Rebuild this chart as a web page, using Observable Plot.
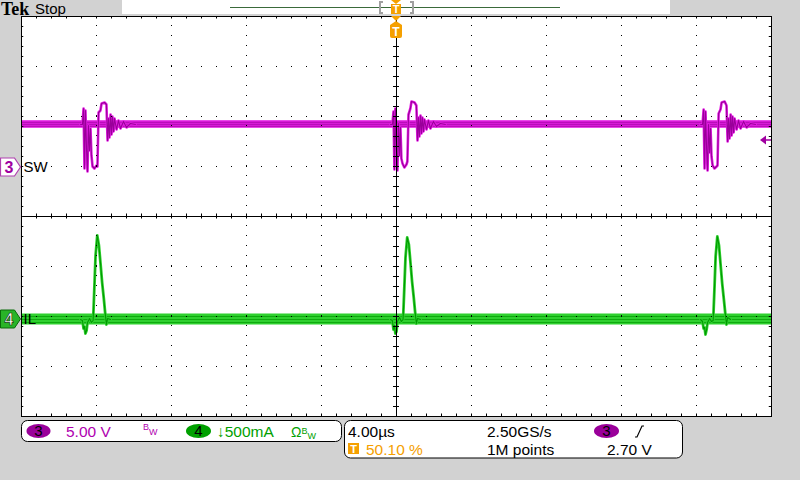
<!DOCTYPE html>
<html><head><meta charset="utf-8">
<script src="https://cdn.jsdelivr.net/npm/d3@7"></script>
<script src="https://cdn.jsdelivr.net/npm/@observablehq/plot@0.6"></script>
<style>
body{margin:0;background:#d2d2d2;}
#wrap{position:relative;width:800px;height:480px;overflow:hidden;font-family:"Liberation Sans",Arial,sans-serif;}
.abs{position:absolute;white-space:nowrap;line-height:1;}
#wrap svg.plot{position:absolute;left:0;top:0;}
</style></head><body><div id="wrap"></div>
<script>
// ---- settings ----
const timePerDiv = 4;          // µs/div
const ch3VoltsPerDiv = 5.00;   // V/div (SW)
const ch4AmpsPerDiv = 0.5;     // A/div (IL)
const ch3Ground = 0.98;        // divisions above centre
const ch4Ground = -2.06;       // divisions below centre
const triggerLevel = 2.70;     // V
const swLevel = 4.3, swNoise = 0.38;
const ilLevel = 0.0, ilNoise = 0.055;

// ---- SW (ch3) switching events: time µs, volts ----
const swEvent1T = [-16.85,-16.75,-16.69,-16.64,-16.59,-16.53,-16.48,-16.43,-16.37,-16.32,-16.27,-16.21,-16.11,-16.00,-15.95,-15.89,-15.79,-15.73,-15.57,-15.47,-15.41,-15.36,-15.31,-15.25,-15.20,-15.15,-15.09,-15.04,-14.93,-14.83,-14.72,-14.56,-14.40,-14.19,-13.92];
const swEvent1V = [4.3,4.3,5.9,-0.1,5.7,1.7,-0.4,4.2,1.7,3.9,1.2,0.1,-0.1,0.2,0.1,5.5,5.7,6.4,6.5,6.3,2.7,4.9,3.0,5.3,3.3,5.1,3.6,4.9,3.8,4.7,3.9,4.6,4.0,4.4,4.3];
const swEvent2T = [-0.32,-0.22,-0.16,-0.11,-0.06,0.00,0.05,0.10,0.16,0.21,0.26,0.32,0.42,0.53,0.58,0.64,0.74,0.80,0.96,1.06,1.12,1.17,1.22,1.28,1.33,1.38,1.44,1.49,1.60,1.70,1.81,1.97,2.13,2.34,2.61];
const swEvent2V = [4.3,4.3,5.6,-0.2,5.9,1.5,-0.3,4.4,1.2,4.0,0.9,0.4,0.0,0.3,0.6,5.3,5.9,6.6,6.5,6.2,2.7,5.0,3.1,5.2,3.4,5.0,3.6,4.8,3.8,4.7,3.9,4.6,4.1,4.4,4.3];
const swEvent3T = [16.22,16.32,16.38,16.43,16.48,16.54,16.59,16.64,16.70,16.75,16.80,16.86,16.96,17.07,17.12,17.18,17.28,17.34,17.50,17.60,17.66,17.71,17.76,17.82,17.87,17.92,17.98,18.03,18.14,18.24,18.35,18.51,18.67,18.88,19.15];
const swEvent3V = [4.3,4.3,5.8,-0.1,5.6,1.8,-0.3,4.3,1.5,3.9,1.1,0.2,-0.1,0.1,0.2,5.4,5.8,6.5,6.6,6.2,2.6,4.9,2.9,5.3,3.2,5.1,3.5,4.9,3.8,4.7,3.9,4.6,4.0,4.4,4.3];

// ---- IL (ch4) current pulses: time µs, amps ----
const ilEvent1T = [-16.85,-16.75,-16.69,-16.64,-16.59,-16.53,-16.48,-16.37,-16.27,-16.18,-16.11,-16.05,-15.96,-15.87,-15.79,-15.70,-15.61,-15.54,-15.47,-15.41,-15.25];
const ilEvent1A = [0,-0.01,-0.09,-0.07,-0.14,-0.11,-0.03,0.01,-0.03,-0.01,0.34,0.64,0.84,0.74,0.57,0.37,0.21,0.07,-0.05,0.01,0];
const ilEvent2T = [-0.32,-0.22,-0.16,-0.11,-0.06,0.00,0.05,0.16,0.26,0.35,0.42,0.48,0.57,0.66,0.74,0.83,0.92,0.99,1.06,1.12,1.28];
const ilEvent2A = [0,-0.01,-0.10,-0.06,-0.14,-0.12,-0.02,0.02,-0.02,0.00,0.33,0.62,0.82,0.75,0.58,0.38,0.22,0.08,-0.04,0.01,0];
const ilEvent3T = [16.22,16.32,16.38,16.43,16.48,16.54,16.59,16.70,16.80,16.89,16.96,17.02,17.11,17.20,17.28,17.37,17.46,17.53,17.60,17.66,17.82];
const ilEvent3A = [0,-0.02,-0.09,-0.08,-0.15,-0.10,-0.03,0.01,-0.02,-0.01,0.32,0.63,0.83,0.74,0.56,0.36,0.20,0.07,-0.05,0.02,0];

// ---- build tables ----
const sw = [], il = [];
[[swEvent1T,swEvent1V],[swEvent2T,swEvent2V],[swEvent3T,swEvent3V]].forEach(([T,V],k)=>T.forEach((t,i)=>sw.push({ev:k,t,v:V[i]})));
[[ilEvent1T,ilEvent1A],[ilEvent2T,ilEvent2A],[ilEvent3T,ilEvent3A]].forEach(([T,A],k)=>T.forEach((t,i)=>il.push({ev:k,t,v:A[i]})));
const swY = v => ch3Ground + v/ch3VoltsPerDiv;
const ilY = a => ch4Ground + a/ch4AmpsPerDiv;
const xMin = -5*timePerDiv, xMax = 5*timePerDiv;

const minorT = d3.range(xMin, xMax+0.001, timePerDiv/5);
const minorD = d3.range(-4, 4.001, 0.2);
const gridT = d3.range(xMin+timePerDiv, xMax, timePerDiv).filter(d=>Math.abs(d)>1e-9);
const gridD = [-3,-2,-1,1,2,3];

const MAG="#e41ee4", MAGD="#9a009a", GRN="#2fd02f", GRND="#009a00";

const chart = Plot.plot({
  width:800, height:480,
  marginLeft:21, marginRight:29, marginTop:16, marginBottom:64,
  x:{domain:[xMin,xMax], axis:null},
  y:{domain:[-4,4], axis:null},
  style:{background:"transparent", fontFamily:"'Liberation Sans',Arial,sans-serif", overflow:"visible"},
  marks:[
    Plot.frame({fill:"white", stroke:null}),
    // SW band
    Plot.rect([{a:swLevel-swNoise,b:swLevel+swNoise}], {x1:xMin, x2:xMax, y1:d=>swY(d.a), y2:d=>swY(d.b), fill:MAG}),
    Plot.ruleY([swLevel-0.18, swLevel+0.02, swLevel+0.22], {y:swY, x1:xMin, x2:xMax, stroke:MAGD, strokeWidth:1, strokeOpacity:0.7}),
    Plot.line(sw, {x:"t", y:d=>swY(d.v), z:"ev", stroke:MAG, strokeWidth:2.6}),
    Plot.line(sw, {x:"t", y:d=>swY(d.v), z:"ev", stroke:MAGD, strokeWidth:1.1}),
    // IL band
    Plot.rect([{a:ilLevel-ilNoise,b:ilLevel+ilNoise}], {x1:xMin, x2:xMax, y1:d=>ilY(d.a), y2:d=>ilY(d.b), fill:GRN}),
    Plot.ruleY([ilLevel-0.03, ilLevel, ilLevel+0.03], {y:ilY, x1:xMin, x2:xMax, stroke:GRND, strokeWidth:1, strokeOpacity:0.7}),
    Plot.line(il, {x:"t", y:d=>ilY(d.v), z:"ev", stroke:GRN, strokeWidth:2.8}),
    Plot.line(il, {x:"t", y:d=>ilY(d.v), z:"ev", stroke:GRND, strokeWidth:1.1}),
    // graticule
    Plot.ruleX(gridT, {y1:-4, y2:4, stroke:"#000", strokeDasharray:"1,9"}),
    Plot.ruleY(gridD, {x1:xMin, x2:xMax, stroke:"#000", strokeDasharray:"1,14"}),
    Plot.ruleX([0], {y1:-4, y2:4, stroke:"#000"}),
    Plot.ruleY([0], {x1:xMin, x2:xMax, stroke:"#000"}),
    Plot.ruleY(minorD, {x1:-0.16, x2:0.16, stroke:"#000"}),
    Plot.ruleX(minorT, {y1:-0.05, y2:0.05, stroke:"#000"}),
    Plot.ruleX(minorT, {y1:4, y2:3.95, stroke:"#000"}),
    Plot.ruleX(minorT, {y1:-4, y2:-3.95, stroke:"#000"}),
    Plot.ruleY(minorD, {x1:xMin, x2:xMin+0.12, stroke:"#000"}),
    Plot.ruleY(minorD, {x1:xMax, x2:xMax-0.12, stroke:"#000"}),
    Plot.frame({stroke:"#000"}),
    // channel labels
    Plot.text([{l:"SW"}], {x:xMin, y:ch3Ground, text:"l", dx:2, textAnchor:"start", fontSize:15, fill:"#000"}),
    Plot.text([{l:"IL"}], {x:xMin, y:ch4Ground, text:"l", dx:2, textAnchor:"start", fontSize:15, fill:"#000"})
  ]
});
chart.classList.add("plot");
const wrap = document.getElementById("wrap");
wrap.appendChild(chart);
const sx = chart.scale("x"), sy = chart.scale("y");
const X = t => sx.apply(t), Y = d => sy.apply(d);

// overlay decorations
const cx = X(0);
const y3 = Y(ch3Ground), y4 = Y(ch4Ground), yTrig = Y(swY(triggerLevel));
const ov = `
<svg width="800" height="480" style="position:absolute;left:0;top:0" font-family="Liberation Sans,Arial,sans-serif">
  <rect x="122" y="0" width="548" height="14" fill="#fff"/>
  <line x1="230" x2="560" y1="7.5" y2="7.5" stroke="#3a6a3a" stroke-width="1"/>
  <path d="M383,2 h-3 v11 h3 M410,2 h3 v11 h-3" fill="none" stroke="#a0a0a0" stroke-width="2"/>
  <path d="M${cx-5},0 h10 l-5,4 z" fill="#f5a000"/>
  <rect x="${cx-5}" y="4" width="10" height="10" fill="#f5a000"/>
  <text x="${cx}" y="13" font-size="11" font-weight="bold" fill="#fff" text-anchor="middle">T</text>
  <path d="M${cx-5},16 h10 l-5,5 z" fill="#f5a000"/>
  <path d="M${cx},21 l6,4 v11 q0,2 -2,2 h-8 q-2,0 -2,-2 v-11 z" fill="#f5a000"/>
  <text x="${cx}" y="36" font-size="12" font-weight="bold" fill="#fff" text-anchor="middle">T</text>
  <path d="M0.5,${y3-9} h14 l6,9 l-6,9 h-14 z" fill="#fff" stroke="#b040b0" stroke-width="1.2"/>
  <text x="9" y="${y3+5.5}" font-size="16" font-weight="bold" fill="#a000a0" text-anchor="middle">3</text>
  <path d="M0.5,${y4-9} h14 l6,9 l-6,9 h-14 z" fill="#28b428" stroke="#0a6a0a" stroke-width="1"/>
  <text x="9" y="${y4+5.5}" font-size="16" font-weight="bold" fill="#fff" stroke="#063806" stroke-width="0.7" text-anchor="middle">4</text>
  <path d="M760,${yTrig} l6,-4.5 v9 z" fill="#a000a0"/>
  <line x1="765" x2="771" y1="${yTrig}" y2="${yTrig}" stroke="#a000a0" stroke-width="1.5"/>
  <rect x="21.5" y="420.5" width="320" height="21" rx="6" fill="#fff" stroke="#000"/>
  <rect x="344.5" y="420.5" width="338" height="37.5" rx="6" fill="#fff" stroke="#000"/>
  <ellipse cx="38.5" cy="431" rx="12" ry="7" fill="#9a009a"/>
  <text x="38.5" y="436" font-size="15" fill="#000" text-anchor="middle">3</text>
  <ellipse cx="198.5" cy="431" rx="12.5" ry="7" fill="#00a000"/>
  <text x="198.5" y="436" font-size="15" fill="#000" text-anchor="middle">4</text>
  <ellipse cx="606.5" cy="431" rx="12.5" ry="7" fill="#9a009a"/>
  <text x="606.5" y="436" font-size="15" fill="#000" text-anchor="middle">3</text>
  <path d="M635,437 h2 l5,-11 h2" fill="none" stroke="#000" stroke-width="1.2"/>
  <rect x="348" y="443" width="11" height="11" fill="#f5a000"/>
  <text x="353.5" y="453" font-size="11" font-weight="bold" fill="#fff" text-anchor="middle">T</text>
</svg>`;
wrap.insertAdjacentHTML("beforeend", ov);

const texts = [
  {t:"Tek", x:1, y:0, s:18, c:"#000", f:"'Liberation Serif',serif", w:"bold"},
  {t:"Stop", x:35, y:1, s:15, c:"#000"},
  {t:"5.00 V", x:66, y:424, s:15.5, c:"#b000b0"},
  {t:"<span style='font-size:9px;position:relative;top:-3px'>B</span><span style='font-size:9px;position:relative;top:2px'>W</span>", x:143, y:425, s:10, c:"#b000b0"},
  {t:"↓500mA", x:217, y:424, s:15.5, c:"#00a000"},
  {t:"Ω<span style='font-size:9px;position:relative;top:-3px'>B</span><span style='font-size:9px;position:relative;top:2px'>W</span>", x:291, y:425, s:14, c:"#00a000"},
  {t:"4.00µs", x:348, y:424, s:15.5, c:"#000"},
  {t:"2.50GS/s", x:487, y:424, s:15.5, c:"#000"},
  {t:"50.10 %", x:366, y:442, s:15.5, c:"#f5a000"},
  {t:"1M points", x:487, y:442, s:15.5, c:"#000"},
  {t:"2.70 V", x:607, y:442, s:15.5, c:"#000"}
];
for (const d of texts) {
  const el = document.createElement("div");
  el.className = "abs";
  el.style.left = d.x+"px"; el.style.top = d.y+"px";
  el.style.fontSize = d.s+"px"; el.style.color = d.c;
  if (d.f) el.style.fontFamily = d.f;
  if (d.w) el.style.fontWeight = d.w;
  el.innerHTML = d.t;
  wrap.appendChild(el);
}
</script></body></html>
